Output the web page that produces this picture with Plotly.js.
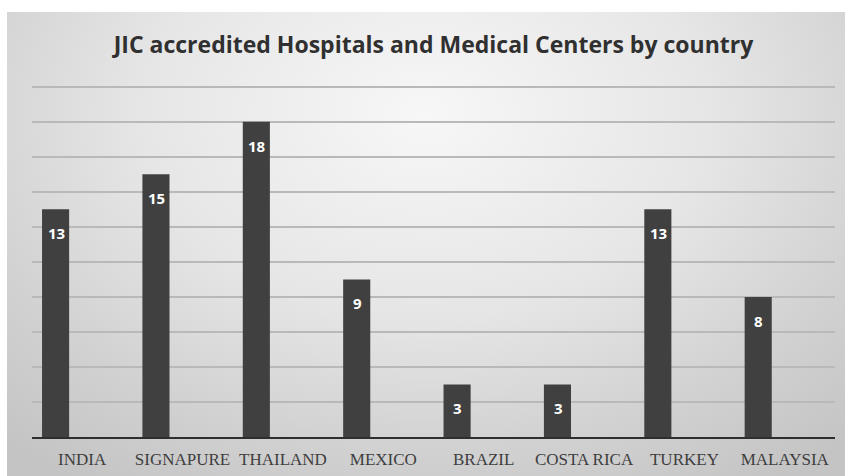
<!DOCTYPE html>
<html>
<head>
<meta charset="utf-8">
<script src="https://cdn.plot.ly/plotly-3.0.1.min.js"></script>
<style>
  html, body { margin: 0; padding: 0; background: #ffffff; }
  #wrap { position: relative; width: 850px; height: 476px; }
  #bg { position: absolute; left: 7px; top: 12px; width: 838px; height: 464px;
        background: radial-gradient(ellipse 75% 95% at 50% 22%, #f7f7f7 0%, #e6e6e6 45%, #d2d2d2 75%, #c4c4c4 100%); }
  #chart { position: absolute; left: 0; top: 0; width: 850px; height: 476px; }
</style>
</head>
<body>
<div id="wrap"><div id="bg"></div><div id="chart"></div></div>
<script>
const countries = ["INDIA", "SIGNAPURE", "THAILAND", "MEXICO", "BRAZIL", "COSTA RICA", "TURKEY", "MALAYSIA"];
const hospitals = [13, 15, 18, 9, 3, 3, 13, 8];
const chartTitle = "JIC accredited Hospitals and Medical Centers by country";

const trace = {
  type: "bar",
  x: countries,
  y: hospitals,
  offset: -0.4,
  width: 0.27,
  marker: { color: "#404040", line: { width: 0 } },
  hoverinfo: "x+y"
};

const annotations = countries.map((c, i) => ({
  x: c, y: hospitals[i], xref: "x", yref: "y",
  text: "<b>" + hospitals[i] + "</b>",
  showarrow: false,
  xshift: -26, yshift: -24,
  font: { family: "Open Sans", size: 15, color: "#ffffff" }
}));

const layout = {
  width: 850, height: 476,
  paper_bgcolor: "rgba(0,0,0,0)",
  plot_bgcolor: "rgba(0,0,0,0)",
  margin: { l: 32, r: 15, t: 85, b: 39 },
  showlegend: false,
  title: {
    text: "<b>" + chartTitle + "</b>",
    font: { family: "Open Sans", size: 23, color: "#303030" },
    x: 0.5, xanchor: "center", xref: "paper",
    y: 1 - 45 / 476, yanchor: "middle", yref: "container"
  },
  xaxis: {
    type: "category",
    showgrid: false, zeroline: false,
    showline: true, linecolor: "#2e2e2e", linewidth: 2,
    ticks: "", ticklen: 0, ticklabelstandoff: 6,
    tickfont: { family: "Liberation Serif", size: 17, color: "#3e3e3e" },
    fixedrange: true
  },
  yaxis: {
    range: [0, 20.1], dtick: 2, tick0: 0,
    showticklabels: false, ticks: "",
    showgrid: true, gridcolor: "#b9b9b9", gridwidth: 2,
    zeroline: false, showline: false,
    fixedrange: true
  },
  annotations: annotations,
  bargap: 0.2
};

Plotly.newPlot("chart", [trace], layout, { displayModeBar: false, staticPlot: true });
</script>
</body>
</html>
